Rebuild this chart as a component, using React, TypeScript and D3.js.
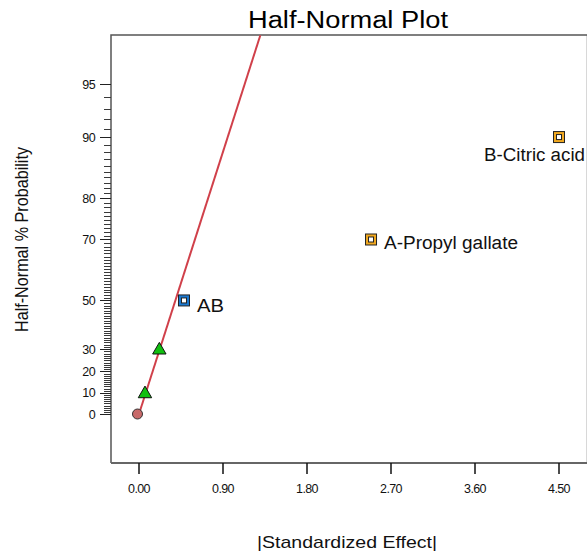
import React from "react";
import * as d3 from "d3";

// ---- data ----
const pointEffects = [0.0, 0.064, 0.218, 0.482, 2.486, 4.5];
const pointProbs = [0, 10, 30, 50, 70, 90];
const pointKinds = ["circle", "triangle", "triangle", "squareBlue", "squareOrange", "squareOrange"];
const pointLabels = ["", "", "", "AB", "A-Propyl gallate", "B-Citric acid"];
const lineEffects = [0.0, 1.3];
const lineProbs = [0, 97.55];
const xTicks = [0, 0.9, 1.8, 2.7, 3.6, 4.5];
const yMajorTicks = [0, 10, 20, 30, 50, 70, 80, 90, 95];
const yMinorTicks = d3.range(0, 96);

// label placement (style)
const labelOffsets: Record<string, [number, number, number]> = {
  AB: [13, 12, 27],
  "A-Propyl gallate": [13, 10, 134],
  "B-Citric acid": [-75, 24, 101],
};

// inverse normal CDF (Acklam)
function invNorm(p: number): number {
  const a = [-3.969683028665376e1, 2.209460984245205e2, -2.759285104469687e2, 1.38357751867269e2, -3.066479806614716e1, 2.506628277459239];
  const b = [-5.447609879822406e1, 1.615858368580409e2, -1.556989798598866e2, 6.680131188771972e1, -1.328068155288572e1];
  const c = [-7.784894002430293e-3, -3.223964580411365e-1, -2.400758277161838, -2.549732539343734, 4.374664141464968, 2.938163982698783];
  const d = [7.784695709041462e-3, 3.224671290700398e-1, 2.445134137142996, 3.754408661907416];
  const pl = 0.02425;
  if (p < pl) {
    const q = Math.sqrt(-2 * Math.log(p));
    return (((((c[0] * q + c[1]) * q + c[2]) * q + c[3]) * q + c[4]) * q + c[5]) / ((((d[0] * q + d[1]) * q + d[2]) * q + d[3]) * q + 1);
  }
  if (p <= 1 - pl) {
    const q = p - 0.5;
    const r = q * q;
    return ((((((a[0] * r + a[1]) * r + a[2]) * r + a[3]) * r + a[4]) * r + a[5]) * q) / (((((b[0] * r + b[1]) * r + b[2]) * r + b[3]) * r + b[4]) * r + 1);
  }
  const q = Math.sqrt(-2 * Math.log(1 - p));
  return -(((((c[0] * q + c[1]) * q + c[2]) * q + c[3]) * q + c[4]) * q + c[5]) / ((((d[0] * q + d[1]) * q + d[2]) * q + d[3]) * q + 1);
}
const halfZ = (pct: number) => (pct <= 0 ? 0 : invNorm((1 + pct / 100) / 2));

const W = 587;
const H = 554;
const left = 111, right = 587, top = 35, bottom = 463;
const FONT = "'Liberation Sans', Arial, sans-serif";

export default function App() {
  const x = d3.scaleLinear().domain([-0.3, 4.8]).range([left, right]);
  const y = d3.scaleLinear().domain([-0.291, 2.251]).range([bottom, top]);
  const py = (p: number) => y(halfZ(p));
  const snap = (v: number) => Math.round(v) + 0.5;

  const linePath = d3
    .line<number>()
    .x((_, i) => x(lineEffects[i]))
    .y((_, i) => py(lineProbs[i]))(lineEffects.map((_, i) => i));

  const tri = d3.symbol().type(d3.symbolTriangle).size(78)();

  const minorPath = yMinorTicks.map((t) => `M104,${snap(py(t))}H${left}`).join("");

  return (
    <svg width={W} height={H} style={{ position: "absolute", left: 0, top: 0, background: "#fff" }} fontFamily={FONT}>
      <defs>
        <clipPath id="plotclip">
          <rect x={left} y={top} width={right - left} height={bottom - top} />
        </clipPath>
      </defs>
      <rect x={0} y={0} width={W} height={H} fill="#fff" />
      {/* title */}
      <text x={248} y={28} fontSize={23} textLength={200} lengthAdjust="spacingAndGlyphs" fill="#000">
        Half-Normal Plot
      </text>
      {/* frame */}
      <line x1={right - 0.5} x2={right - 0.5} y1={top} y2={bottom} stroke="#d8d8d8" strokeWidth={1} />
      <path d={`M${left},${bottom}V${top}H${right}`} fill="none" stroke="#555" strokeWidth={1.5} />
      <line x1={left} x2={right} y1={bottom} y2={bottom} stroke="#666" strokeWidth={2} />
      {/* y ticks */}
      <path d={minorPath} fill="none" stroke="#3a3a3a" strokeWidth={1} shapeRendering="crispEdges" />
      {yMajorTicks.map((t) => (
        <g key={"M" + t}>
          <line x1={99.5} x2={left} y1={snap(py(t))} y2={snap(py(t))} stroke="#222" strokeWidth={1} shapeRendering="crispEdges" />
          <text x={95} y={py(t) + 4.5} fontSize={12.5} textAnchor="end" fill="#111" letterSpacing={-0.6}>
            {t}
          </text>
        </g>
      ))}
      {/* x ticks */}
      {xTicks.map((t) => (
        <g key={"x" + t}>
          <line x1={x(t)} x2={x(t)} y1={bottom} y2={474} stroke="#111" strokeWidth={1.5} />
          <text x={x(t)} y={492.5} fontSize={12.5} textAnchor="middle" fill="#111" letterSpacing={-0.6}>
            {t.toFixed(2)}
          </text>
        </g>
      ))}
      {/* axis titles */}
      <text x={257} y={548} fontSize={17} textLength={180} lengthAdjust="spacingAndGlyphs" fill="#111">
        |Standardized Effect|
      </text>
      <text
        transform={`translate(28,332) rotate(-90)`}
        fontSize={19}
        textLength={185}
        lengthAdjust="spacingAndGlyphs"
        fill="#111"
      >
        Half-Normal % Probability
      </text>
      {/* fitted line */}
      <path d={linePath || ""} fill="none" stroke="#d0404a" strokeWidth={2} clipPath="url(#plotclip)" />
      {/* points */}
      {pointEffects.map((e, i) => {
        const cx = x(e);
        const cy = py(pointProbs[i]);
        const kind = pointKinds[i];
        if (kind === "circle") {
          return <circle key={i} cx={cx - 1.5} cy={cy} r={5} fill="#c86a6a" stroke="#333" strokeWidth={1} />;
        }
        if (kind === "triangle") {
          return (
            <path key={i} d={tri || ""} transform={`translate(${cx},${cy + 1})`} fill="#10c010" stroke="#111" strokeWidth={1} />
          );
        }
        const col = kind === "squareBlue" ? "#1a78d0" : "#f0a820";
        return (
          <g key={i}>
            <rect x={cx - 5.5} y={cy - 5.5} width={11} height={11} fill={col} stroke="#222" strokeWidth={1} />
            <rect x={cx - 2.5} y={cy - 2.5} width={5} height={5} fill="#fff" stroke="#222" strokeWidth={1} />
          </g>
        );
      })}
      {/* labels */}
      {pointEffects.map((e, i) => {
        const lab = pointLabels[i];
        if (!lab) return null;
        const [dx, dy, len] = labelOffsets[lab];
        return (
          <text
            key={"l" + i}
            x={x(e) + dx}
            y={py(pointProbs[i]) + dy}
            fontSize={18}
            textLength={len}
            lengthAdjust="spacingAndGlyphs"
            fill="#111"
          >
            {lab}
          </text>
        );
      })}
    </svg>
  );
}
